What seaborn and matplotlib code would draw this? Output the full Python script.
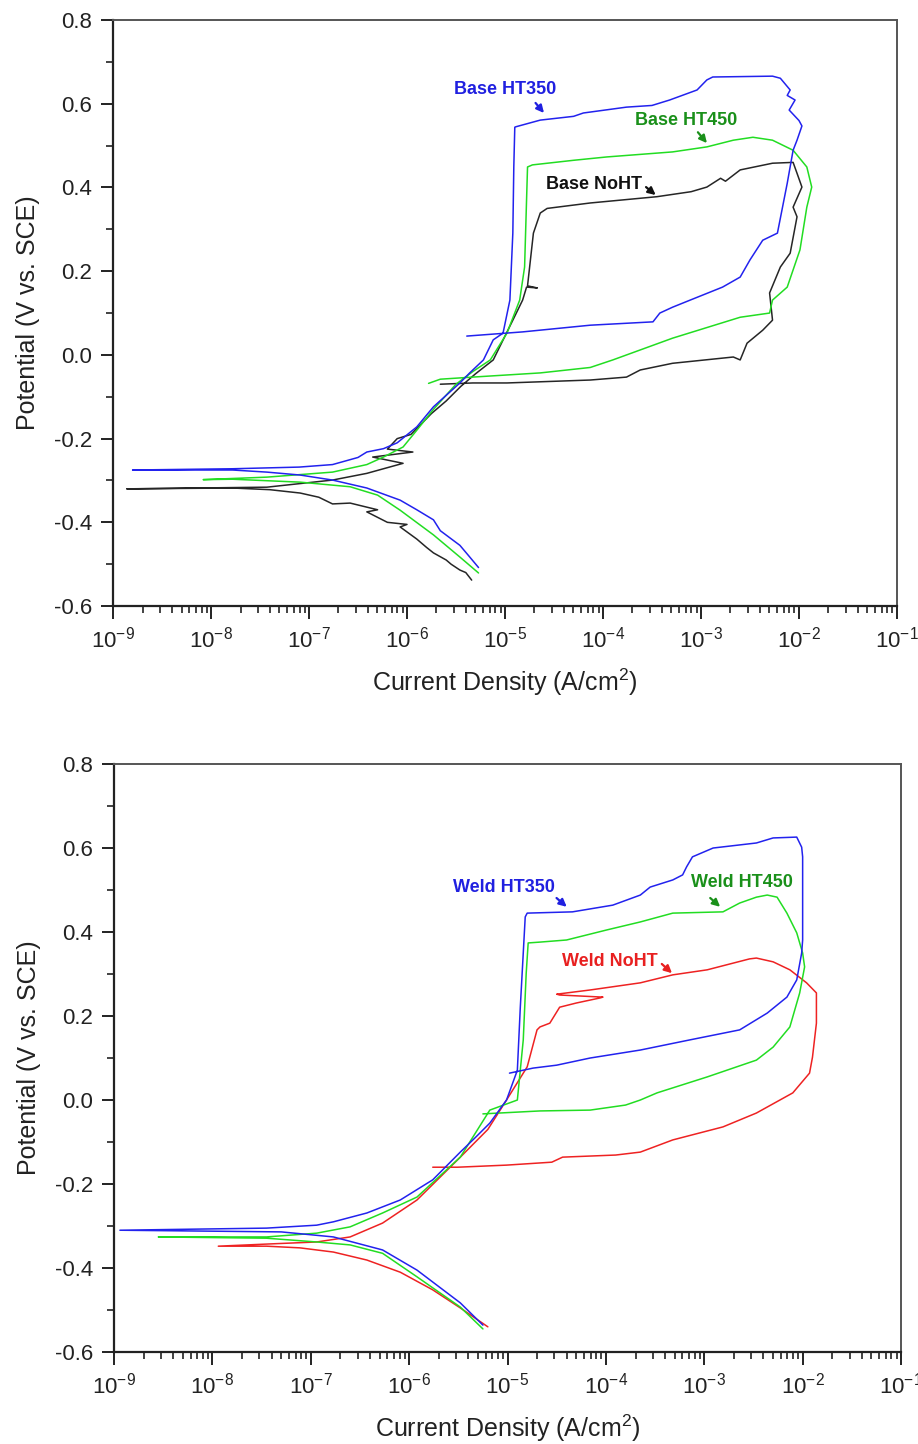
import numpy as np
import pandas as pd
import matplotlib
matplotlib.use("Agg")
import matplotlib.pyplot as plt
import seaborn as sns
from matplotlib.ticker import FixedLocator, NullFormatter, MultipleLocator, FormatStrFormatter, LogFormatterSciNotation

# ---------------- data (log10 of current density in A/cm2, potential in V vs SCE) ----------------
base_ht350_logi = [-5.27, -5.37, -5.46, -5.66, -5.73, -5.9, -6.07, -6.41, -6.76, -7.09, -7.43, -7.78, -8.80,
                   -7.78, -7.1, -6.76, -6.5, -6.41, -6.24, -6.1, -5.9, -5.73, -5.46, -5.36, -5.22, -5.12, -5.02,
                   -4.95, -4.92, -4.91, -4.90,
                   -4.89, -4.64, -4.3, -4.2, -3.76, -3.5, -3.32, -3.04, -2.94, -2.88, -2.27, -2.19, -2.09, -2.12,
                   -2.04, -2.1, -2.0, -1.97, -2.02, -2.06,
                   -2.12, -2.22, -2.37, -2.5, -2.6, -2.78, -3.11, -3.29, -3.42, -3.49, -4.13, -4.82, -5.39]
base_ht350_E = [-0.508, -0.48, -0.455, -0.42, -0.394, -0.37, -0.347, -0.318, -0.299, -0.287, -0.280, -0.275, -0.275,
                -0.272, -0.268, -0.262, -0.245, -0.232, -0.224, -0.21, -0.172, -0.124, -0.067, -0.043, -0.012, 0.036, 0.052,
                0.131, 0.291, 0.45, 0.544,
                0.545, 0.561, 0.570, 0.578, 0.592, 0.596, 0.609, 0.633, 0.657, 0.664, 0.666, 0.661, 0.633, 0.62,
                0.609, 0.585, 0.56, 0.547, 0.513, 0.489,
                0.41, 0.291, 0.274, 0.227, 0.186, 0.162, 0.131, 0.114, 0.1, 0.079, 0.071, 0.055, 0.045]

base_ht450_logi = [-5.27, -5.46, -5.73, -6.07, -6.3, -6.58, -7.09, -7.78, -8.08,
                   -7.43, -6.76, -6.41, -6.24, -6.04, -5.9, -5.73, -5.5, -5.33, -5.15, -4.98, -4.85, -4.80, -4.78,
                   -4.77, -4.72, -4.3, -3.96, -3.29, -2.94, -2.67, -2.47, -2.27, -2.06, -1.92, -1.87, -1.92, -1.99,
                   -2.12, -2.27, -2.3, -2.6, -3.29, -3.9, -4.13, -4.64, -5.33, -5.66, -5.78]
base_ht450_E = [-0.521, -0.483, -0.43, -0.371, -0.335, -0.315, -0.304, -0.297, -0.298,
                -0.292, -0.28, -0.262, -0.244, -0.22, -0.18, -0.13, -0.07, -0.04, -0.012, 0.052, 0.131, 0.21, 0.37,
                0.449, 0.454, 0.465, 0.473, 0.485, 0.497, 0.513, 0.52, 0.513, 0.489, 0.449, 0.401, 0.353, 0.251,
                0.162, 0.131, 0.1, 0.09, 0.04, -0.012, -0.03, -0.043, -0.053, -0.058, -0.068]

base_noht_logi = [-5.34, -5.4, -5.46, -5.55, -5.6, -5.73, -5.8, -5.9, -6.07, -6.0, -6.2, -6.41, -6.3, -6.58,
                  -6.76, -6.9, -7.09, -7.4, -7.78, -8.86,
                  -7.43, -6.76, -6.41, -6.04, -6.35, -5.94, -6.2, -6.1, -5.96, -5.75, -5.6, -5.45, -5.3, -5.12,
                  -4.92, -4.82, -4.78, -4.67, -4.77, -4.71, -4.64, -4.57,
                  -4.13, -3.45, -3.1, -2.94, -2.8, -2.75, -2.6, -2.27, -2.06, -2.02, -1.97, -2.06, -2.02, -2.09,
                  -2.19, -2.3, -2.27, -2.37, -2.53, -2.6, -2.67, -3.29, -3.62, -3.76, -4.13, -4.98, -5.33, -5.66]
base_noht_E = [-0.538, -0.52, -0.514, -0.5, -0.49, -0.473, -0.46, -0.44, -0.411, -0.405, -0.40, -0.375, -0.37, -0.354,
               -0.356, -0.34, -0.33, -0.322, -0.318, -0.32,
               -0.316, -0.299, -0.283, -0.259, -0.244, -0.232, -0.225, -0.20, -0.19, -0.14, -0.11, -0.075, -0.045, -0.012,
               0.083, 0.131, 0.162, 0.16, 0.165, 0.291, 0.339, 0.35,
               0.363, 0.378, 0.39, 0.401, 0.422, 0.415, 0.442, 0.458, 0.46, 0.434, 0.401, 0.353, 0.33, 0.243,
               0.21, 0.148, 0.083, 0.059, 0.028, -0.012, -0.005, -0.02, -0.036, -0.053, -0.06, -0.067, -0.067, -0.07]

weld_ht350_logi = [-5.25, -5.48, -5.92, -6.27, -6.77, -7.3, -8.94,
                   -7.45, -6.94, -6.77, -6.43, -6.09, -5.76, -5.48, -5.33, -5.18, -5.01, -4.9, -4.87, -4.82, -4.80,
                   -4.34, -3.93, -3.65, -3.55, -3.32, -3.22, -3.18, -3.12, -2.91, -2.47, -2.3, -2.06, -2.01, -2.0,
                   -2.0, -2.01, -2.06, -2.16, -2.36, -2.64, -3.15, -3.65, -4.16, -4.5, -4.74, -4.98]
weld_ht350_E = [-0.536, -0.483, -0.405, -0.357, -0.326, -0.314, -0.31,
                -0.305, -0.298, -0.29, -0.269, -0.238, -0.19, -0.124, -0.09, -0.055, 0.0, 0.071, 0.221, 0.436, 0.445,
                0.448, 0.464, 0.488, 0.507, 0.524, 0.536, 0.555, 0.579, 0.60, 0.612, 0.624, 0.626, 0.602, 0.579,
                0.381, 0.35, 0.286, 0.245, 0.207, 0.167, 0.143, 0.119, 0.1, 0.083, 0.076, 0.064]

weld_ht450_logi = [-5.25, -5.48, -5.92, -6.27, -6.6, -6.94, -7.45, -8.55,
                   -7.45, -6.94, -6.6, -6.27, -5.92, -5.48, -5.18, -4.9, -4.84, -4.81, -4.79,
                   -4.67, -4.4, -3.99, -3.65, -3.32, -2.81, -2.64, -2.47, -2.36, -2.26, -2.16, -2.06, -2.0, -1.98,
                   -2.03, -2.13, -2.3, -2.47, -2.97, -3.48, -3.65, -3.8, -4.16, -4.67, -5.25]
weld_ht450_E = [-0.545, -0.493, -0.421, -0.365, -0.345, -0.338, -0.329, -0.326,
                -0.326, -0.317, -0.302, -0.269, -0.231, -0.136, -0.024, 0.0, 0.143, 0.302, 0.374,
                0.376, 0.381, 0.405, 0.424, 0.445, 0.448, 0.469, 0.483, 0.488, 0.483, 0.445, 0.398, 0.35, 0.317,
                0.255, 0.174, 0.126, 0.095, 0.055, 0.017, 0.0, -0.012, -0.024, -0.026, -0.033]

weld_noht_logi = [-5.2, -5.48, -5.76, -6.09, -6.43, -6.77, -7.11, -7.45, -7.94,
                  -7.45, -6.94, -6.6, -6.27, -5.92, -5.48, -5.2, -5.01, -4.8, -4.7, -4.67, -4.57, -4.47, -4.3, -4.06,
                  -4.03, -4.47, -4.5, -4.16, -3.65, -3.32, -2.97, -2.54, -2.47, -2.3, -2.13, -1.96, -1.86, -1.86,
                  -1.9, -1.93, -2.1, -2.47, -2.81, -3.32, -3.65, -3.9, -4.44, -4.55, -5.01, -5.51, -5.76]
weld_noht_E = [-0.54, -0.495, -0.452, -0.41, -0.381, -0.362, -0.352, -0.348, -0.348,
               -0.343, -0.338, -0.326, -0.293, -0.238, -0.136, -0.07, 0.0, 0.079, 0.167, 0.174, 0.183, 0.221, 0.231, 0.243,
               0.245, 0.25, 0.252, 0.262, 0.279, 0.298, 0.31, 0.336, 0.338, 0.329, 0.31, 0.279, 0.255, 0.183,
               0.102, 0.064, 0.017, -0.031, -0.064, -0.095, -0.124, -0.131, -0.136, -0.148, -0.155, -0.16, -0.16]

top_names = ["Base NoHT", "Base HT450", "Base HT350"]
bottom_names = ["Weld NoHT", "Weld HT450", "Weld HT350"]

y_ticks = [-0.6, -0.4, -0.2, 0.0, 0.2, 0.4, 0.6, 0.8]
x_decades = [1e-9, 1e-8, 1e-7, 1e-6, 1e-5, 1e-4, 1e-3, 1e-2, 1e-1]


def build(names, logis, Es):
    frames = []
    for n, li, e in zip(names, logis, Es):
        frames.append(pd.DataFrame({"sample": n, "i": 10.0 ** np.asarray(li), "E": e}))
    return pd.concat(frames, ignore_index=True)


df_top = build(top_names, [base_noht_logi, base_ht450_logi, base_ht350_logi],
               [base_noht_E, base_ht450_E, base_ht350_E])
df_bot = build(bottom_names, [weld_noht_logi, weld_ht450_logi, weld_ht350_logi],
               [weld_noht_E, weld_ht450_E, weld_ht350_E])

sns.set_style("ticks")
plt.rcParams["font.family"] = ["Liberation Sans", "DejaVu Sans"]
plt.rcParams["mathtext.fontset"] = "custom"
plt.rcParams["mathtext.rm"] = "Liberation Sans"
plt.rcParams["mathtext.it"] = "Liberation Sans:italic"
plt.rcParams["mathtext.bf"] = "Liberation Sans:bold"
plt.rcParams["axes.unicode_minus"] = False

fig = plt.figure(figsize=(9.18, 14.44), dpi=100)
ax1 = fig.add_axes([0.1231, 0.5803, 0.854, 0.4058])
ax2 = fig.add_axes([0.1242, 0.0637, 0.8573, 0.4072])

pal_top = {"Base NoHT": "#262626", "Base HT450": "#22dd22", "Base HT350": "#2222ee"}
pal_bot = {"Weld NoHT": "#ee2222", "Weld HT450": "#22dd22", "Weld HT350": "#2222ee"}

minor_x = [m * d for d in x_decades[:-1] for m in range(2, 10)]

for ax, df, pal, names in [(ax1, df_top, pal_top, top_names), (ax2, df_bot, pal_bot, bottom_names)]:
    ax.set_xscale("log")
    sns.lineplot(data=df, x="i", y="E", hue="sample", hue_order=names, palette=pal, sort=False,
                 estimator=None, legend=False, linewidth=1.1, ax=ax)
    ax.set_xlim(1e-9, 1e-1)
    ax.set_ylim(-0.6, 0.8)
    ax.set_yticks(y_ticks)
    ax.yaxis.set_major_formatter(FormatStrFormatter("%.1f"))
    ax.yaxis.set_minor_locator(MultipleLocator(0.1))
    ax.xaxis.set_major_locator(FixedLocator(x_decades))
    ax.xaxis.set_major_formatter(LogFormatterSciNotation(base=10))
    ax.xaxis.set_minor_locator(FixedLocator(minor_x))
    ax.xaxis.set_minor_formatter(NullFormatter())
    ax.tick_params(which="major", direction="out", length=9, width=1.4, labelsize=16,
                   colors="#222222", top=False, right=False, pad=6)
    ax.tick_params(which="minor", direction="out", length=5, width=1.2, colors="#222222",
                   top=False, right=False)
    for s in ["left", "bottom"]:
        ax.spines[s].set_color("#222222")
        ax.spines[s].set_linewidth(1.6)
    for s in ["top", "right"]:
        ax.spines[s].set_color("#555555")
        ax.spines[s].set_linewidth(1.4)
    ax.set_xlabel("Current Density (A/cm$^2$)", fontsize=18, color="#222222", labelpad=10)
    ax.set_ylabel("Potential (V vs. SCE)", fontsize=18, color="#222222", labelpad=10)

# annotations (text centre, arrow start, arrow tip) in data coords
ann_top = [
    ("Base HT350", "#2020e0", (1.0e-5, 0.633), (2.05e-5, 0.602), (2.5e-5, 0.578)),
    ("Base HT450", "#1a901a", (7.0e-4, 0.559), (9.3e-4, 0.532), (1.15e-3, 0.506)),
    ("Base NoHT", "#111111", (8.1e-5, 0.408), (2.75e-4, 0.401), (3.45e-4, 0.382)),
]
ann_bot = [
    ("Weld HT350", "#2020e0", (9.3e-6, 0.507), (3.15e-5, 0.481), (4.0e-5, 0.46)),
    ("Weld HT450", "#1a901a", (2.4e-3, 0.517), (1.15e-3, 0.481), (1.45e-3, 0.46)),
    ("Weld NoHT", "#e82020", (1.1e-4, 0.329), (3.7e-4, 0.324), (4.7e-4, 0.302)),
]
for ax, anns in [(ax1, ann_top), (ax2, ann_bot)]:
    for txt, col, c, s, t in anns:
        ax.text(c[0], c[1], txt, color=col, fontsize=13, fontweight="bold", ha="center", va="center")
        ax.annotate("", xy=t, xytext=s,
                    arrowprops=dict(arrowstyle="-|>", color=col, lw=1.6, mutation_scale=11,
                                    shrinkA=0, shrinkB=0))

fig.savefig("out.png", dpi=100)
